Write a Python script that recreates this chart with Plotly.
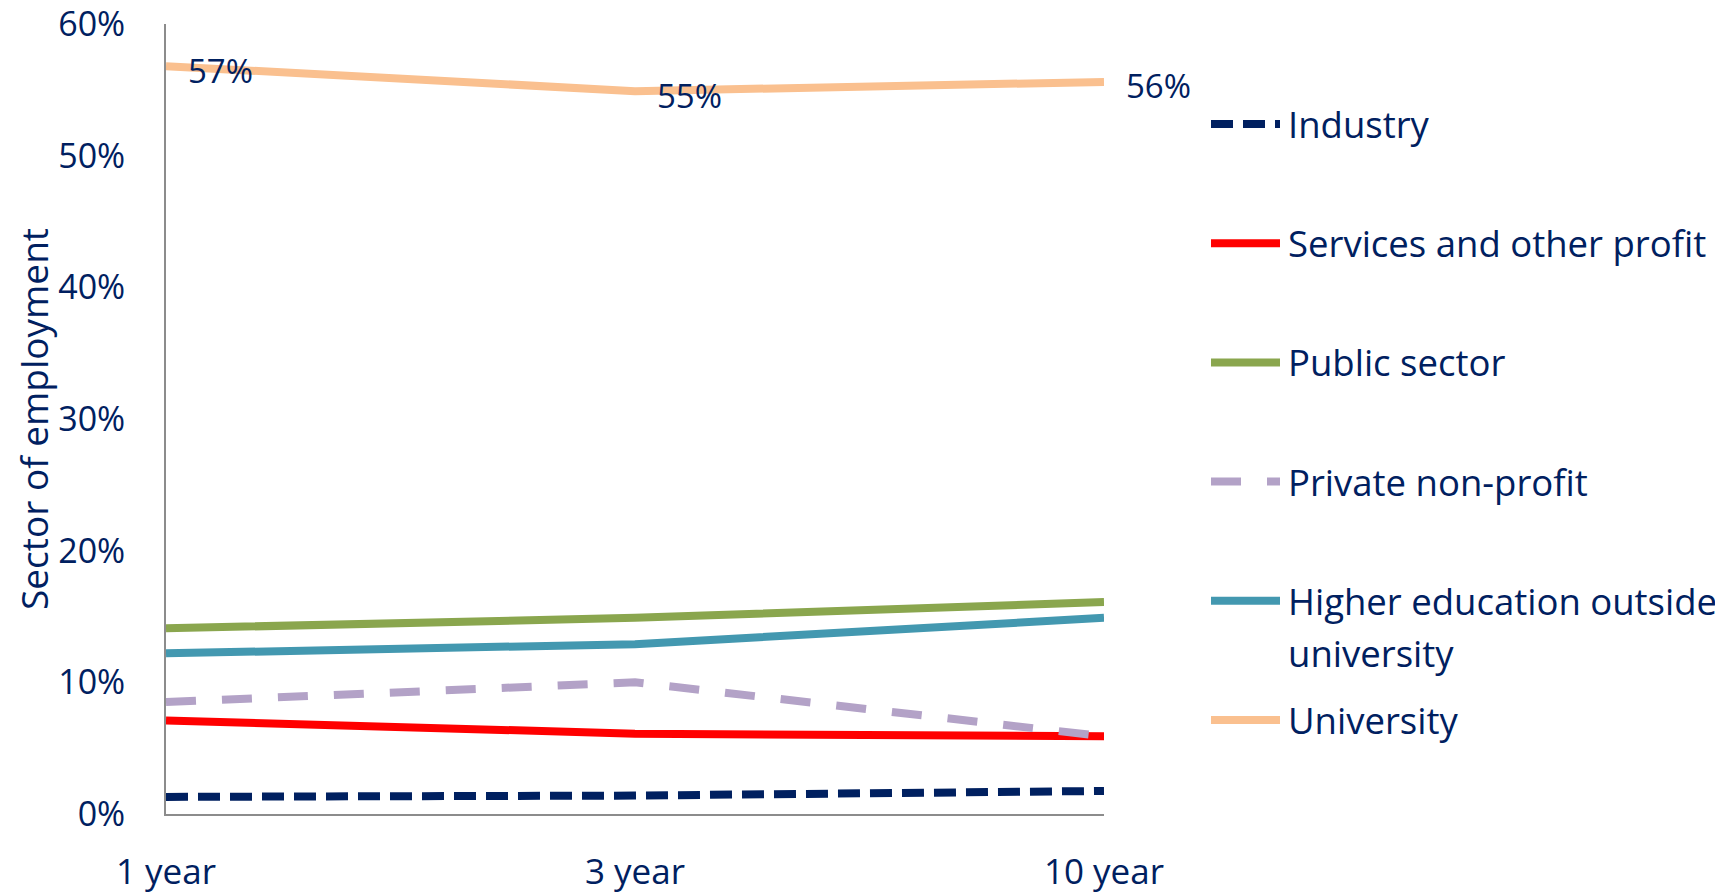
import plotly.graph_objects as go

# ---------------- data ----------------
categories = ["1 year", "3 year", "10 year"]

industry = [0.013, 0.014, 0.0175]
services = [0.071, 0.061, 0.059]
public_sector = [0.141, 0.149, 0.161]
private_nonprofit = [0.085, 0.100, 0.059]
higher_ed = [0.122, 0.129, 0.149]
university = [0.568, 0.549, 0.556]

university_labels = ["57%", "55%", "56%"]

series_names = ["Industry", "Services and other profit", "Public sector",
                "Private non-profit", "Higher education outside university",
                "University"]
legend_lines = [["Industry"], ["Services and other profit"], ["Public sector"],
                ["Private non-profit"], ["Higher education outside", "university"],
                ["University"]]

y_tick_vals = [0, 0.1, 0.2, 0.3, 0.4, 0.5, 0.6]
y_tick_text = ["0%", "10%", "20%", "30%", "40%", "50%", "60%"]
y_title = "Sector of employment"

# ---------------- styles ----------------
NAVY = "#002060"
FONT = "Open Sans"
colors = ["#002060", "#FF0000", "#8AA64E", "#B3A2C7", "#4398B0", "#FAC08F"]
dashes = ["22px,10px", "solid", "solid", "30px,26px", "solid", "solid"]
LW = 8

values = [industry, services, public_sector, private_nonprofit, higher_ed, university]

# page offset (browser body margin) compensation
OFF = 8
W, H = 1723 - OFF, 893 - OFF
L, T = 166 - OFF, 24 - OFF
pw, ph = 938, 790
R = W - L - pw
B = H - T - ph

fig = go.Figure()
for name, vals, col, dsh in zip(series_names, values, colors, dashes):
    fig.add_trace(go.Scatter(
        x=categories, y=vals, name=name, mode="lines",
        line=dict(color=col, width=LW, dash=dsh),
        showlegend=False, hoverinfo="skip",
    ))

# data labels for University
for cat, v, lab in zip(categories, university, university_labels):
    fig.add_annotation(x=cat, y=v, text=lab, showarrow=False,
                       xanchor="left", yanchor="middle", xshift=20, yshift=-4,
                       font=dict(family=FONT, size=33, color=NAVY))

def px2paper_x(px):
    return (px - OFF - L) / pw

def px2paper_y(py):
    return (T + ph - (py - OFF)) / ph

# manual legend (reference pixel positions)
leg_x0, leg_x1, leg_text = 1211, 1280, 1286
leg_y0, leg_step, line_gap = 124, 119.2, 52
for i, (lines, col, dsh) in enumerate(zip(legend_lines, colors, dashes)):
    yc = leg_y0 + i * leg_step
    fig.add_shape(type="line", xref="paper", yref="paper",
                  x0=px2paper_x(leg_x0), x1=px2paper_x(leg_x1),
                  y0=px2paper_y(yc), y1=px2paper_y(yc),
                  line=dict(color=col, width=LW, dash=dsh))
    for k, txt in enumerate(lines):
        fig.add_annotation(xref="paper", yref="paper",
                           x=px2paper_x(leg_text), y=px2paper_y(yc + k * line_gap),
                           text=txt, showarrow=False, xanchor="left",
                           yanchor="middle", align="left",
                           font=dict(family=FONT, size=36.5, color=NAVY))

fig.update_layout(
    width=W, height=H,
    margin=dict(l=L, r=R, t=T, b=B, autoexpand=False),
    plot_bgcolor="white", paper_bgcolor="white",
    font=dict(family=FONT, color=NAVY, size=34),
    showlegend=False,
    xaxis=dict(type="category", range=[0, 2], showgrid=False, zeroline=False,
               showline=True, linecolor="#8C8C8C", linewidth=2,
               ticks="", tickfont=dict(size=35, color=NAVY),
               ticklabelstandoff=26, ticklabeloverflow="allow"),
    yaxis=dict(range=[0, 0.6], tickvals=y_tick_vals, ticktext=y_tick_text,
               showgrid=False, zeroline=False, showline=True,
               linecolor="#8C8C8C", linewidth=2, ticks="",
               tickfont=dict(size=34, color=NAVY), ticklabelstandoff=32,
               ticklabeloverflow="allow",
               title=dict(text=y_title, font=dict(size=37, color=NAVY), standoff=10)),
)

fig.write_html("out.html")
